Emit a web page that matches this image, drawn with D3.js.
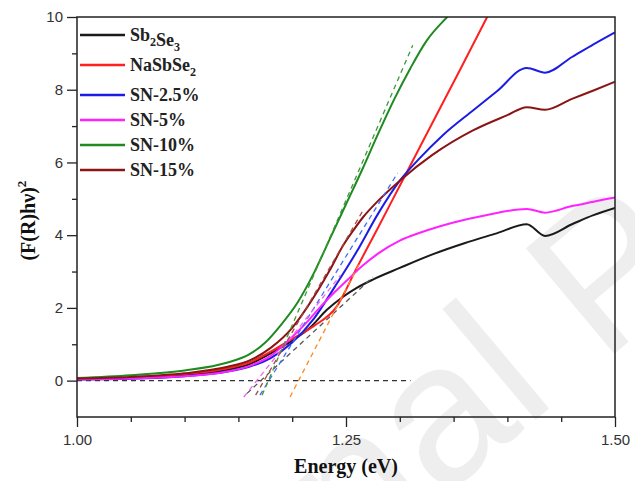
<!DOCTYPE html>
<html lang="en">
<head>
    <meta charset="UTF-8">
    <title>Tauc plot of Sb2Se3 / NaSbSe2 films</title>
    <script src="https://d3js.org/d3.v7.min.js"></script>
    <style>
        body { margin: 0; background: #fff; }
        svg { display: block; font-family: "Liberation Serif", "Times New Roman", serif; }
        .tick text { fill: #333; font-size: 15px; }
        .tick line { stroke: #222; stroke-width: 1.3px; }
        .domain { display: none; }
        .curve { fill: none; stroke-width: 2px; }
        .tangent { fill: none; stroke-width: 1.3px; stroke-dasharray: 5 4; }
        .axis-title { font-weight: bold; font-size: 20px; fill: #111; }
        .legend text { font-weight: bold; font-size: 18px; fill: #222; }
    </style>
</head>
<body>
    <svg id="chart" width="635" height="481"></svg>

    <script>
        // Tauc curves, [energy (eV), (F(R)hv)^2]
        const sb2se3 = [[1.00,0.05],[1.05,0.07],[1.10,0.15],[1.14,0.30],[1.16,0.45],[1.18,0.75],[1.20,1.10],
            [1.217,1.47],[1.232,1.94],[1.247,2.30],[1.26,2.55],[1.275,2.78],[1.30,3.10],[1.331,3.48],
            [1.36,3.78],[1.39,4.05],[1.418,4.30],[1.435,3.98],[1.46,4.30],[1.48,4.55],[1.50,4.75]];
        const nasbse2 = [[1.00,0.05],[1.05,0.08],[1.10,0.18],[1.14,0.34],[1.16,0.50],[1.18,0.80],[1.20,1.15],
            [1.22,1.50],[1.241,2.02],[1.26,3.10],[1.28,4.22],[1.30,5.36],[1.32,6.50],[1.356,8.55],[1.38,9.93],[1.40,11.1]];
        const sn25 = [[1.00,0.03],[1.05,0.05],[1.10,0.12],[1.14,0.25],[1.16,0.38],[1.18,0.62],[1.20,1.05],
            [1.22,1.70],[1.24,2.60],[1.26,3.55],[1.28,4.60],[1.30,5.50],[1.317,6.07],[1.34,6.75],[1.368,7.43],
            [1.39,7.95],[1.418,8.60],[1.435,8.47],[1.46,8.90],[1.48,9.25],[1.50,9.58]];
        const sn5 = [[1.00,0.04],[1.05,0.06],[1.10,0.12],[1.14,0.25],[1.16,0.40],[1.18,0.68],[1.20,1.20],
            [1.215,1.65],[1.226,2.02],[1.24,2.45],[1.251,2.76],[1.265,3.15],[1.28,3.50],[1.30,3.85],[1.32,4.08],
            [1.35,4.35],[1.38,4.55],[1.418,4.72],[1.435,4.62],[1.46,4.80],[1.48,4.92],[1.50,5.04]];
        const sn10 = [[1.00,0.07],[1.05,0.15],[1.10,0.28],[1.14,0.50],[1.16,0.72],[1.175,1.05],[1.19,1.55],
            [1.205,2.15],[1.22,2.95],[1.235,3.90],[1.25,4.85],[1.265,5.80],[1.28,6.80],[1.295,7.75],
            [1.31,8.60],[1.325,9.35],[1.344,10.0],[1.36,10.5]];
        const sn15 = [[1.00,0.06],[1.05,0.10],[1.10,0.20],[1.14,0.38],[1.16,0.55],[1.18,0.90],[1.20,1.45],
            [1.214,2.02],[1.235,3.04],[1.247,3.70],[1.257,4.14],[1.266,4.50],[1.28,4.95],[1.30,5.50],[1.33,6.20],
            [1.368,6.88],[1.40,7.30],[1.418,7.52],[1.435,7.45],[1.46,7.75],[1.48,7.98],[1.50,8.22]];

        const seriesNames = ["Sb2Se3", "NaSbSe2", "SN-2.5%", "SN-5%", "SN-10%", "SN-15%"];
        const seriesData = [sb2se3, nasbse2, sn25, sn5, sn10, sn15];
        const seriesColors = ["#1a1a1a", "#ff1f1f", "#1c1ce6", "#ff22ff", "#1f8a1f", "#8b1414"];

        // linear extrapolations to the absorption edge, [[E1, y1], [E2, y2]]
        const tangentLines = [
            [[1.158,-0.35],[1.275,2.85]],
            [[1.198,-0.45],[1.262,3.20]],
            [[1.170,-0.40],[1.298,5.71]],
            [[1.155,-0.45],[1.245,2.90]],
            [[1.172,-0.40],[1.312,9.22]],
            [[1.166,-0.40],[1.266,4.69]]
        ];
        const tangentColors = ["#555555", "#ff8a1c", "#3f6cff", "#ee66ee", "#3a9a3a", "#a54848"];
        const baseline = [[1.00,0],[1.31,0]];

        const xMajor = [1.00, 1.25, 1.50];
        const xMinor = [1.05, 1.10, 1.15, 1.20, 1.30, 1.35, 1.40, 1.45];
        const yMajor = [0, 2, 4, 6, 8, 10];
        const yMinor = [1, 3, 5, 7, 9];

        const svg = d3.select("#chart");
        const margin = { top: 17, right: 20, bottom: 64, left: 77 };
        const width = 635 - margin.left - margin.right;
        const height = 481 - margin.top - margin.bottom;

        // watermark behind the plot
        const wm = svg.append("text")
            .attr("font-family", "Liberation Sans, Arial, sans-serif")
            .attr("font-size", 200)
            .attr("fill", "#eeeeee")
            .attr("transform", "translate(440,500) rotate(-40)")
            .text("Journal Pre-proof");
        const lead = wm.node().getSubStringLength(0, 5);
        wm.attr("x", -lead);

        const x = d3.scaleLinear().domain([1.0, 1.5]).range([0, width]);
        const y = d3.scaleLinear().domain([-1, 10]).range([height, 0]);

        const g = svg.append("g").attr("transform", `translate(${margin.left},${margin.top})`);

        g.append("clipPath").attr("id", "plot-clip")
            .append("rect").attr("width", width).attr("height", height);

        const line = d3.line()
            .x(d => x(d[0]))
            .y(d => y(d[1]))
            .curve(d3.curveMonotoneX);
        const straight = d3.line().x(d => x(d[0])).y(d => y(d[1]));

        const plot = g.append("g").attr("clip-path", "url(#plot-clip)");

        plot.append("path")
            .attr("class", "tangent")
            .attr("stroke", "#333")
            .attr("d", straight(baseline));

        plot.selectAll(".curve")
            .data(seriesData)
            .enter()
            .append("path")
            .attr("class", "curve")
            .attr("stroke", (d, i) => seriesColors[i])
            .attr("d", line);

        plot.selectAll(".fit")
            .data(tangentLines)
            .enter()
            .append("path")
            .attr("class", "tangent fit")
            .attr("stroke", (d, i) => tangentColors[i])
            .attr("d", straight);

        // axes: major ticks with labels, minor ticks without
        g.append("g").attr("transform", `translate(0,${height})`)
            .call(d3.axisBottom(x).tickValues(xMajor).tickFormat(d3.format(".2f")).tickSize(10).tickPadding(7));
        g.append("g").attr("transform", `translate(0,${height})`)
            .call(d3.axisBottom(x).tickValues(xMinor).tickFormat("").tickSize(5));
        g.append("g")
            .call(d3.axisLeft(y).tickValues(yMajor).tickSize(10).tickPadding(4));
        g.append("g")
            .call(d3.axisLeft(y).tickValues(yMinor).tickFormat("").tickSize(5));

        // frame
        g.append("rect")
            .attr("width", width).attr("height", height)
            .attr("fill", "none").attr("stroke", "#222").attr("stroke-width", 1.5);

        g.append("text")
            .attr("class", "axis-title")
            .attr("x", width / 2).attr("y", height + 56)
            .attr("text-anchor", "middle")
            .text("Energy (eV)");

        const yTitle = svg.append("text")
            .attr("class", "axis-title")
            .attr("transform", `translate(35,${margin.top + y(4.4)}) rotate(-90)`)
            .attr("text-anchor", "middle");
        yTitle.append("tspan").text("(F(R)hν)");
        yTitle.append("tspan").attr("font-size", 13).attr("dy", -9).text("2");

        // legend
        const legend = g.append("g").attr("class", "legend");
        let ly = 18;
        seriesNames.forEach((name, i) => {
            const row = legend.append("g").attr("transform", `translate(3,${ly})`);
            row.append("line")
                .attr("x1", 0).attr("x2", 45)
                .attr("stroke", seriesColors[i]).attr("stroke-width", 2.5);
            const t = row.append("text").attr("x", 50).attr("dy", "0.35em");
            const parts = name.match(/[A-Za-z%\-.]+|\d+(\.\d+)?%?/g);
            const hasSub = /\d/.test(name) && !name.startsWith("SN");
            if (hasSub) {
                parts.forEach(p => {
                    if (/^\d+$/.test(p)) {
                        t.append("tspan").attr("font-size", 12).attr("dy", 5).text(p);
                        t.append("tspan").attr("dy", -5).text("");
                    } else {
                        t.append("tspan").text(p);
                    }
                });
            } else {
                t.text(name);
            }
            ly += hasSub ? 30 : 25;
        });
    </script>
</body>
</html>
